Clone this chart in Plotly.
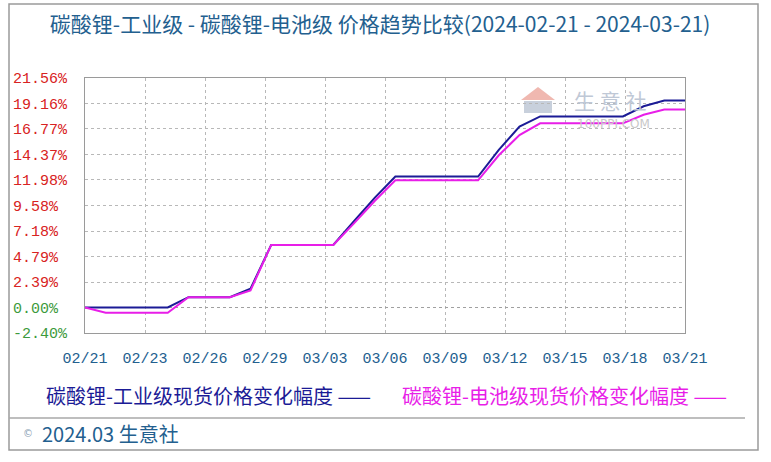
import pandas as pd
import plotly.graph_objects as go

# ---------------- data ----------------
dates = pd.date_range("2024-02-21", "2024-03-21", freq="D").strftime("%Y-%m-%d").tolist()

industrial = [0.00, 0.00, 0.00, 0.00, 0.00, 0.97, 0.97, 0.97, 1.76, 5.88,
              5.88, 5.88, 5.88, 8.10, 10.30, 12.30, 12.30, 12.30, 12.30, 12.30,
              14.80, 17.00, 17.95, 17.95, 17.95, 17.95, 17.95, 18.90, 19.45, 19.45]

battery = [0.00, -0.50, -0.50, -0.50, -0.50, 0.97, 0.97, 0.97, 1.60, 5.88,
           5.88, 5.88, 5.88, 7.90, 10.00, 11.95, 11.95, 11.95, 11.95, 11.95,
           14.30, 16.20, 17.30, 17.30, 17.30, 17.30, 17.30, 18.10, 18.60, 18.60]

x_tick_labels = ["02/21", "02/23", "02/26", "02/29", "03/03", "03/06",
                 "03/09", "03/12", "03/15", "03/18", "03/21"]

y_tick_values = [-2.40, 0.00, 2.39, 4.79, 7.18, 9.58, 11.98, 14.37, 16.77, 19.16, 21.56]
y_tick_labels = ["-2.40%", "0.00%", "2.39%", "4.79%", "7.18%", "9.58%",
                 "11.98%", "14.37%", "16.77%", "19.16%", "21.56%"]

title_text = "碳酸锂-工业级 - 碳酸锂-电池级 价格趋势比较(2024-02-21 - 2024-03-21)"
series_names = ["碳酸锂-工业级现货价格变化幅度", "碳酸锂-电池级现货价格变化幅度"]
footer_text = "2024.03 生意社"

# ---------------- geometry helpers ----------------
W, H = 771, 462
L, R, T, B = 85, 685, 78, 333
Y_RANGE = [-2.40, 21.56]


def px(x):
    return (x - L) / (R - L)


def py(y):
    return (B - y) / (B - T)


start = pd.Timestamp(dates[0])
days = [(pd.Timestamp(d) - start).days for d in dates]
span = days[-1]
n_ticks = len(x_tick_labels)
x_tickvals = [span * i / (n_ticks - 1) for i in range(n_ticks)]

BLUE = "#1b1b96"
MAGENTA = "#e81ee8"
TEAL = "#23608f"
RED = "#d82222"
GREEN = "#3c9a3c"


def pad(lab):
    return lab + "\u00a0" * (6 - len(lab))


pos_vals = [v for v in y_tick_values if v > 0]
pos_text = [pad(t) for v, t in zip(y_tick_values, y_tick_labels) if v > 0]
neg_vals = [v for v in y_tick_values if v <= 0]
neg_text = [pad(t) for v, t in zip(y_tick_values, y_tick_labels) if v <= 0]

fig = go.Figure()
fig.add_trace(go.Scatter(x=days, y=industrial, mode="lines", name=series_names[0],
                         line=dict(color=BLUE, width=2), showlegend=False))
fig.add_trace(go.Scatter(x=days, y=battery, mode="lines", name=series_names[1],
                         line=dict(color=MAGENTA, width=2), showlegend=False))

fig.update_layout(
    width=W, height=H,
    margin=dict(l=L, r=W - R, t=T, b=H - B, pad=0),
    paper_bgcolor="white", plot_bgcolor="white",
    title=dict(text=title_text, x=0.493, xanchor="center", xref="container",
               y=1 - 25 / H, yanchor="middle", yref="container",
               font=dict(family="Noto Sans CJK SC", size=21, color=TEAL)),
    font=dict(family="Noto Sans CJK SC"),
)

fig.update_layout(
    xaxis=dict(
        range=[0, span], tickmode="array", tickvals=x_tickvals, ticktext=x_tick_labels,
        showgrid=True, gridcolor="#b8b8b8", griddash="dot", gridwidth=1,
        zeroline=False, showline=True, linecolor="#9a9a9a", linewidth=1, mirror=True,
        ticks="outside", ticklen=11, tickcolor="rgba(0,0,0,0)",
        tickfont=dict(family="Liberation Mono", size=15, color=TEAL),
    ),
    yaxis=dict(
        range=Y_RANGE, tickmode="array", tickvals=pos_vals, ticktext=pos_text,
        showgrid=True, gridcolor="#b8b8b8", griddash="dot", gridwidth=1,
        zeroline=False, showline=True, linecolor="#9a9a9a", linewidth=1, mirror=True,
        ticks="outside", ticklen=14, tickcolor="rgba(0,0,0,0)",
        tickfont=dict(family="Liberation Mono", size=15, color=RED),
    ),
    yaxis2=dict(
        range=Y_RANGE, overlaying="y", side="left", tickmode="array",
        tickvals=neg_vals, ticktext=neg_text,
        showgrid=True, gridcolor="#a0a0a0", griddash="dot", gridwidth=1,
        zeroline=False, showline=False,
        ticks="outside", ticklen=14, tickcolor="rgba(0,0,0,0)",
        tickfont=dict(family="Liberation Mono", size=15, color=GREEN),
    ),
)
# invisible trace to activate the second y axis
fig.add_trace(go.Scatter(x=[days[0]], y=[Y_RANGE[0]], yaxis="y2", mode="markers",
                         marker=dict(opacity=0), showlegend=False, hoverinfo="skip"))

shapes = [
    # outer frame
    dict(type="rect", xref="paper", yref="paper", x0=px(9), x1=px(758), y0=py(450), y1=py(4),
         line=dict(color="#9a9a9a", width=1.5), fillcolor="rgba(0,0,0,0)", layer="below"),
    # separator above footer
    dict(type="line", xref="paper", yref="paper", x0=px(9), x1=px(745), y0=py(418), y1=py(418),
         line=dict(color="#a8a8a8", width=1.5)),
    # watermark house logo
    dict(type="path", xref="paper", yref="paper", layer="below",
         path=f"M {px(521)},{py(100)} L {px(538)},{py(87)} L {px(555)},{py(100)} Z",
         fillcolor="#f0b8b0", line=dict(width=0)),
    dict(type="rect", xref="paper", yref="paper", layer="below",
         x0=px(524), x1=px(552), y0=py(113), y1=py(101),
         fillcolor="#c8d0dc", line=dict(width=0)),
]

annotations = [
    dict(text="生 意 社", xref="paper", yref="paper", x=px(610), y=py(100),
         showarrow=False, xanchor="center", yanchor="middle",
         font=dict(family="Noto Sans CJK SC", size=21, color="#bfc8d6")),
    dict(text="100PPI.COM", xref="paper", yref="paper", x=px(613), y=py(124),
         showarrow=False, xanchor="center", yanchor="middle",
         font=dict(family="DejaVu Sans", size=12, color="#c8c8c8")),
    dict(text=f"{series_names[0]} ——", xref="paper", yref="paper", x=px(44), y=py(395),
         showarrow=False, xanchor="left", yanchor="middle",
         font=dict(family="Noto Sans CJK SC", size=20, color=BLUE)),
    dict(text=f"{series_names[1]} ——", xref="paper", yref="paper", x=px(400), y=py(395),
         showarrow=False, xanchor="left", yanchor="middle",
         font=dict(family="Noto Sans CJK SC", size=20, color=MAGENTA)),
    dict(text="©", xref="paper", yref="paper", x=px(21), y=py(433),
         showarrow=False, xanchor="left", yanchor="middle",
         font=dict(family="DejaVu Sans", size=10, color="#8aa0b4")),
    dict(text=footer_text, xref="paper", yref="paper", x=px(40), y=py(433),
         showarrow=False, xanchor="left", yanchor="middle",
         font=dict(family="Noto Sans CJK SC", size=20, color=TEAL)),
]

fig.update_layout(shapes=shapes, annotations=annotations)

fig.write_html("out.html", config={"displayModeBar": False},
               post_script="document.body.style.margin='0';")
